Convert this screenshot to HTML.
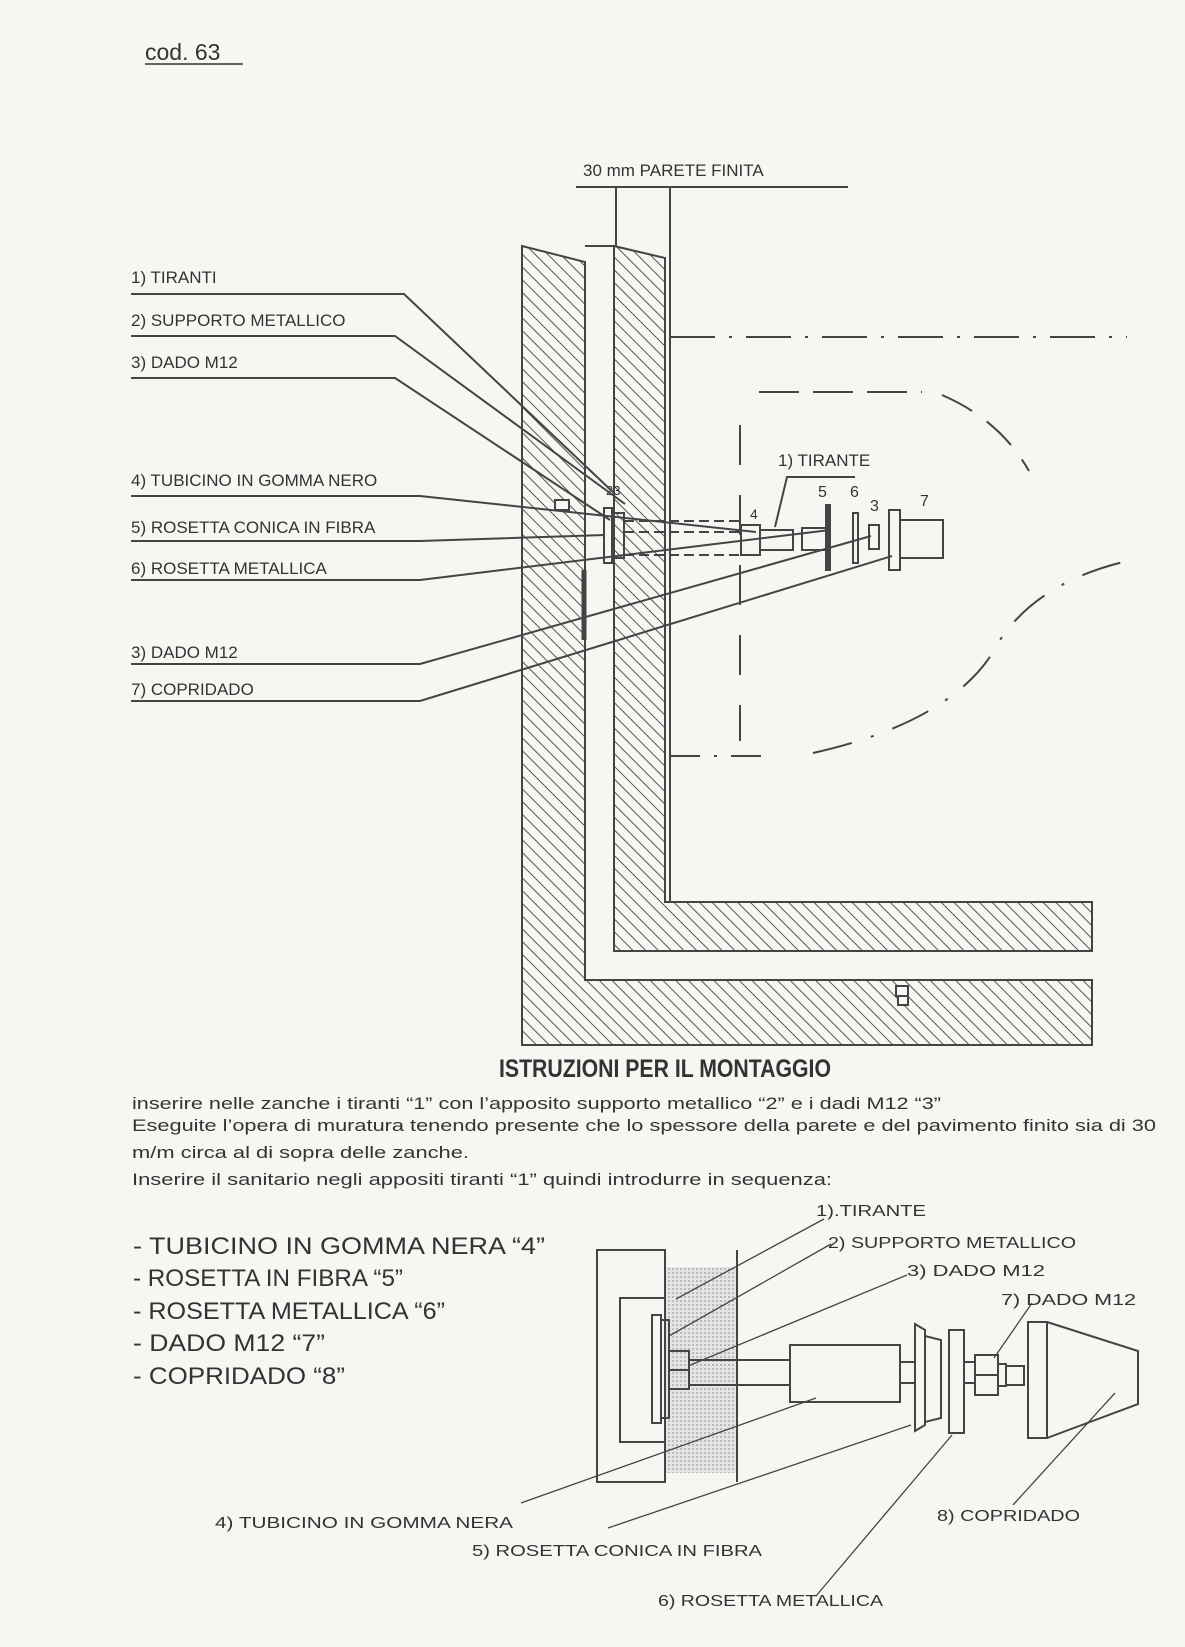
<!DOCTYPE html>
<html><head><meta charset="utf-8">
<style>
html,body{margin:0;padding:0;background:#f6f6f3;}
svg{display:block;}
text{font-family:"Liberation Sans",sans-serif;fill:#333;}
</style></head>
<body>
<svg width="1185" height="1647" viewBox="0 0 1185 1647" xmlns="http://www.w3.org/2000/svg">
<defs>
<pattern id="h" width="9" height="9" patternUnits="userSpaceOnUse" patternTransform="rotate(-45)">
<rect width="9" height="9" fill="#f6f6f3"/>
<line x1="0" y1="0" x2="0" y2="9" stroke="#555" stroke-width="2"/>
</pattern>
<pattern id="d" width="4" height="4" patternUnits="userSpaceOnUse">
<rect width="4" height="4" fill="#e4e4e4"/>
<circle cx="1" cy="1" r="0.8" fill="#888"/>
</pattern>
</defs>

<!-- header -->
<text x="145" y="60" font-size="23">cod. 63</text>
<line x1="145" y1="64" x2="243" y2="64" stroke="#333" stroke-width="1.5"/>

<!-- top diagram -->
<g stroke="#444" stroke-width="2" fill="none">
<text x="583" y="176" font-size="17" stroke="none">30 mm PARETE FINITA</text>
<line x1="576" y1="187" x2="848" y2="187"/>
<line x1="616" y1="187" x2="616" y2="246"/>
<line x1="670" y1="187" x2="670" y2="902"/>
<!-- outer wall + floor -->
<path d="M522 246 L585 262 L585 980 L1092 980 L1092 1045 L522 1045 Z" fill="url(#h)"/>
<!-- inner wall + floor -->
<path d="M614 246 L665 258 L665 902 L1092 902 L1092 951 L614 951 Z" fill="url(#h)"/>
<line x1="585" y1="246" x2="614" y2="246"/>
<line x1="665" y1="902" x2="1092" y2="902"/>
<!-- small blocks -->
<rect x="555" y="500" width="14" height="10" fill="#f6f6f3"/>
<rect x="896" y="986" width="12" height="10" fill="#f6f6f3"/>
<rect x="898" y="996" width="10" height="9" fill="#f6f6f3"/>
<line x1="584" y1="570" x2="584" y2="640" stroke-width="5"/>

<!-- dashed outlines -->
<path d="M670 337 L1127 337" stroke-dasharray="45,14,3,14"/>
<path d="M759 392 L922 392" stroke-dasharray="40,14"/>
<path d="M942 395 Q1000 420 1029 471" stroke-dasharray="34,18"/>
<path d="M740 425 L740 741" stroke-dasharray="40,30"/>
<path d="M670 756 L770 756" stroke-dasharray="30,14,3,14"/>
<path d="M813 753 Q960 720 1000 640 Q1040 580 1132 560" stroke-dasharray="40,20,3,20"/>

<!-- components -->
<rect x="604" y="508" width="8" height="55"/>
<rect x="612" y="513" width="12" height="45"/>
<line x1="624" y1="521" x2="740" y2="521" stroke-dasharray="10,5"/>
<line x1="624" y1="532" x2="740" y2="532" stroke-dasharray="10,5"/>
<line x1="624" y1="555" x2="740" y2="555" stroke-dasharray="10,5"/>
<rect x="741" y="525" width="19" height="30"/>
<rect x="760" y="530" width="33" height="20"/>
<rect x="802" y="528" width="24" height="22"/>
<rect x="826" y="505" width="4" height="65" fill="#444"/>
<rect x="853" y="513" width="5" height="50"/>
<rect x="869" y="525" width="10" height="24"/>
<rect x="889" y="510" width="11" height="60"/>
<rect x="900" y="520" width="43" height="38"/>
<text x="750" y="519" font-size="14" stroke="none">4</text>
<text x="818" y="497" font-size="16" stroke="none">5</text>
<text x="850" y="497" font-size="16" stroke="none">6</text>
<text x="870" y="511" font-size="16" stroke="none">3</text>
<text x="920" y="506" font-size="16" stroke="none">7</text>
<text x="778" y="466" font-size="17" stroke="none">1) TIRANTE</text>
<polyline points="855,477 787,477 775,527"/>
<text x="606" y="495" font-size="13" stroke="none">23</text>

<!-- left labels -->
<g font-size="17" stroke="none">
<text x="131" y="283" stroke="none">1) TIRANTI</text>
<text x="131" y="326" stroke="none">2) SUPPORTO METALLICO</text>
<text x="131" y="368" stroke="none">3) DADO M12</text>
<text x="131" y="486" stroke="none">4) TUBICINO IN GOMMA NERO</text>
<text x="131" y="533" stroke="none">5) ROSETTA CONICA IN FIBRA</text>
<text x="131" y="574" stroke="none">6) ROSETTA METALLICA</text>
<text x="131" y="658" stroke="none">3) DADO M12</text>
<text x="131" y="695" stroke="none">7) COPRIDADO</text>
</g>
<polyline points="131,294 404,294 615,494"/>
<polyline points="131,336 395,336 625,504"/>
<polyline points="131,378 395,378 610,520"/>
<polyline points="131,496 420,496 756,532"/>
<polyline points="131,541 420,541 605,535"/>
<polyline points="131,580 420,580 830,530"/>
<polyline points="131,664 420,664 871,536"/>
<polyline points="131,701 420,701 892,556"/>
</g>

<!-- instructions -->
<text x="665" y="1077" font-size="25" font-weight="bold" text-anchor="middle" transform="translate(665 0) scale(0.85 1) translate(-665 0)">ISTRUZIONI PER IL MONTAGGIO</text>
<g font-size="17">
<text x="132" y="1109" textLength="809" lengthAdjust="spacingAndGlyphs">inserire nelle zanche i tiranti “1” con l’apposito supporto metallico “2” e i dadi M12 “3”</text>
<text x="132" y="1131" textLength="1024" lengthAdjust="spacingAndGlyphs">Eseguite l’opera di muratura tenendo presente che lo spessore della parete e del pavimento finito sia di 30</text>
<text x="132" y="1158" textLength="337" lengthAdjust="spacingAndGlyphs">m/m circa al di sopra delle zanche.</text>
<text x="132" y="1185" textLength="700" lengthAdjust="spacingAndGlyphs">Inserire il sanitario negli appositi tiranti “1” quindi introdurre in  sequenza:</text>
</g>
<g font-size="24">
<text x="133" y="1254" textLength="412" lengthAdjust="spacingAndGlyphs">- TUBICINO IN GOMMA NERA “4”</text>
<text x="133" y="1286" textLength="270" lengthAdjust="spacingAndGlyphs">- ROSETTA IN FIBRA “5”</text>
<text x="133" y="1319" textLength="312" lengthAdjust="spacingAndGlyphs">- ROSETTA METALLICA “6”</text>
<text x="133" y="1351" textLength="192" lengthAdjust="spacingAndGlyphs">- DADO M12 “7”</text>
<text x="133" y="1384" textLength="212" lengthAdjust="spacingAndGlyphs">- COPRIDADO “8”</text>
</g>

<!-- bottom diagram -->
<g stroke="#444" stroke-width="2" fill="none">
<rect x="665" y="1267" width="72" height="206" fill="url(#d)" stroke="none"/>
<rect x="597" y="1250" width="68" height="232"/>
<rect x="620" y="1298" width="45" height="144"/>
<line x1="737" y1="1250" x2="737" y2="1482"/>
<rect x="652" y="1315" width="9" height="108"/>
<rect x="661" y="1320" width="8" height="98"/>
<rect x="669" y="1351" width="20" height="38"/>
<line x1="669" y1="1370" x2="689" y2="1370"/>
<rect x="689" y="1360" width="101" height="25"/>
<rect x="790" y="1345" width="110" height="57"/>
<rect x="900" y="1362" width="15" height="21"/>
<path d="M915 1324 L925 1330 L925 1425 L915 1431 Z"/>
<path d="M925 1336 L941 1340 L941 1418 L925 1422 Z"/>
<rect x="949" y="1330" width="15" height="103"/>
<rect x="964" y="1362" width="11" height="21"/>
<rect x="975" y="1355" width="23" height="40"/>
<line x1="975" y1="1375" x2="998" y2="1375"/>
<rect x="998" y="1364" width="8" height="22"/>
<rect x="1006" y="1366" width="18" height="19"/>
<rect x="1028" y="1322" width="19" height="116"/>
<path d="M1047 1322 L1138 1351 L1138 1404 L1047 1438"/>
<g stroke-width="1.3">
<polyline points="824,1219 676,1299"/>
<polyline points="831,1244 669,1336"/>
<polyline points="907,1275 688,1366"/>
<polyline points="1032,1303 994,1358"/>
<polyline points="521,1503 816,1398"/>
<polyline points="608,1528 911,1425"/>
<polyline points="816,1596 952,1435"/>
<polyline points="1013,1505 1115,1393"/>
</g>
</g>
<g font-size="16">
<text x="816" y="1216" textLength="110" lengthAdjust="spacingAndGlyphs">1).TIRANTE</text>
<text x="828" y="1248" textLength="248" lengthAdjust="spacingAndGlyphs">2) SUPPORTO METALLICO</text>
<text x="907" y="1276" textLength="138" lengthAdjust="spacingAndGlyphs">3) DADO M12</text>
<text x="1001" y="1305" textLength="135" lengthAdjust="spacingAndGlyphs">7) DADO M12</text>
<text x="215" y="1528" textLength="298" lengthAdjust="spacingAndGlyphs">4) TUBICINO IN GOMMA NERA</text>
<text x="472" y="1556" textLength="290" lengthAdjust="spacingAndGlyphs">5) ROSETTA CONICA IN FIBRA</text>
<text x="937" y="1521" textLength="143" lengthAdjust="spacingAndGlyphs">8) COPRIDADO</text>
<text x="658" y="1606" textLength="225" lengthAdjust="spacingAndGlyphs">6) ROSETTA METALLICA</text>
</g>
</svg>
</body></html>
